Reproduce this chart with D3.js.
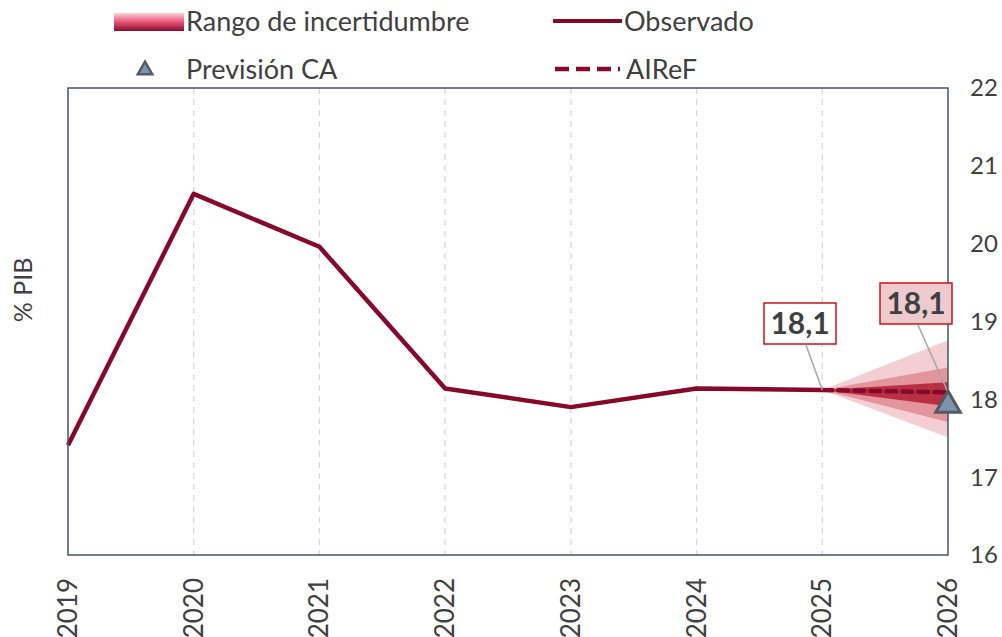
<!DOCTYPE html>
<html>
<head>
<meta charset="utf-8">
<script src="https://cdn.jsdelivr.net/npm/d3@7"></script>
<style>
    body { margin: 0; background: white; }
    svg { font-family: 'Lato', 'Open Sans', sans-serif; fill: #404040; }
</style>
</head>
<body>
<div id="chart"></div>
<script>
var years = [2019, 2020, 2021, 2022, 2023, 2024, 2025, 2026]
var observado = [17.41, 20.64, 19.96, 18.14, 17.9, 18.14, 18.12]
var aireYears = [2025, 2026]
var aireF = [18.12, 18.09]
var previsionCA = { year: 2026, value: 17.95 }
// fan bands at 2026: [low, high], widest first
var bands = [[17.51, 18.76], [17.71, 18.41], [17.91, 18.22]]
var bandColors = ['#f3cfd4', '#e3949d', '#b83041']
var yTicks = [16, 17, 18, 19, 20, 21, 22]
var labels = [
    { year: 2025, value: 18.12, text: '18,1', bx: 800, by: 323, fill: 'white' },
    { year: 2026, value: 18.09, text: '18,1', bx: 916, by: 303, fill: '#eccacd' }
]

var width = 1002, height = 637
var plot = { left: 68, right: 948, top: 88, bottom: 555 }
var red = '#86092b'

var svg = d3.select('#chart').append('svg')
    .attr('width', width)
    .attr('height', height)

var x = d3.scaleLinear().domain([2019, 2026]).range([plot.left, plot.right])
var y = d3.scaleLinear().domain([16, 22]).range([plot.bottom, plot.top])

// gridlines
svg.append('g').selectAll('line')
    .data(years.slice(1, -1))
    .join('line')
    .attr('x1', d => x(d)).attr('x2', d => x(d))
    .attr('y1', plot.top).attr('y2', plot.bottom)
    .attr('stroke', '#d6d6d6')
    .attr('stroke-width', 1.2)
    .attr('stroke-dasharray', '6,5')

// fan
var fan = svg.append('g')
bands.forEach(function (b, i) {
    fan.append('path')
        .attr('d', d3.area()
            .x(d => x(d.year))
            .y0(d => y(d.lo))
            .y1(d => y(d.hi))([
                { year: 2025, lo: observado[6], hi: observado[6] },
                { year: 2026, lo: b[0], hi: b[1] }
            ]))
        .attr('fill', bandColors[i])
})

// observed line
svg.append('path')
    .datum(observado)
    .attr('d', d3.line().x((d, i) => x(years[i])).y(d => y(d)))
    .attr('fill', 'none')
    .attr('stroke', red)
    .attr('stroke-width', 4.5)
    .attr('stroke-linejoin', 'round')

// AIReF dashed
svg.append('path')
    .datum(aireF)
    .attr('d', d3.line().x((d, i) => x(aireYears[i])).y(d => y(d)))
    .attr('fill', 'none')
    .attr('stroke', red)
    .attr('stroke-width', 4.5)
    .attr('stroke-dasharray', '10,6')
    .attr('stroke-linecap', 'round')

// leader lines
labels.forEach(function (l) {
    svg.append('line')
        .attr('x1', l.bx + (l.year === 2026 ? 2 : 6)).attr('y1', l.by + 22)
        .attr('x2', x(l.year)).attr('y2', y(l.value))
        .attr('stroke', '#a6a6a6')
        .attr('stroke-width', 1.5)
})

// plot frame
svg.append('rect')
    .attr('x', plot.left).attr('y', plot.top)
    .attr('width', plot.right - plot.left)
    .attr('height', plot.bottom - plot.top)
    .attr('fill', 'none')
    .attr('stroke', '#44546a')
    .attr('stroke-width', 1.5)

labels.forEach(function (l) {
    var g = svg.append('g')
    g.append('rect')
        .attr('x', l.bx - 36).attr('y', l.by - 20)
        .attr('width', 72).attr('height', 41)
        .attr('fill', l.fill)
        .attr('stroke', '#d0101a')
        .attr('stroke-width', 1.5)
    g.append('text')
        .attr('x', l.bx).attr('y', l.by + 11)
        .attr('text-anchor', 'middle')
        .style('font-size', '30px')
        .style('font-weight', 'bold')
        .text(l.text)
})

// triangle
svg.append('path')
    .attr('d', d3.symbol().type(d3.symbolTriangle).size(260)())
    .attr('transform', 'translate(' + x(previsionCA.year) + ',' + (y(previsionCA.value) + 2) + ')')
    .attr('fill', '#7f93b0')
    .attr('stroke', '#555a60')
    .attr('stroke-width', 3)

// y ticks (right)
svg.append('g').selectAll('text')
    .data(yTicks)
    .join('text')
    .attr('x', 984)
    .attr('y', d => y(d))
    .attr('dy', '0.35em')
    .attr('text-anchor', 'middle')
    .style('font-size', '24px')
    .text(d => d)

// x ticks, rotated
svg.append('g').selectAll('text')
    .data(years)
    .join('text')
    .attr('transform', d => 'translate(' + (x(d) + 9) + ',578) rotate(-90)')
    .attr('text-anchor', 'end')
    .style('font-size', '26px')
    .text(d => d)

// y title
svg.append('text')
    .attr('transform', 'translate(32,290) rotate(-90)')
    .attr('text-anchor', 'middle')
    .style('font-size', '25px')
    .text('% PIB')

// legend
var grad = svg.append('defs').append('linearGradient')
    .attr('id', 'fanGrad').attr('x1', 0).attr('x2', 0).attr('y1', 0).attr('y2', 1)
grad.append('stop').attr('offset', '0%').attr('stop-color', '#fbd3dc')
grad.append('stop').attr('offset', '45%').attr('stop-color', '#ef5d80')
grad.append('stop').attr('offset', '100%').attr('stop-color', '#8a0a2a')

var legend = svg.append('g').style('font-size', '27px')
legend.append('rect')
    .attr('x', 114).attr('y', 13).attr('width', 70).attr('height', 18)
    .attr('fill', 'url(#fanGrad)')
legend.append('text').attr('x', 186).attr('y', 31).text('Rango de incertidumbre')
legend.append('line')
    .attr('x1', 553).attr('x2', 622).attr('y1', 21).attr('y2', 21)
    .attr('stroke', red).attr('stroke-width', 4)
legend.append('text').attr('x', 624).attr('y', 31).text('Observado')

legend.append('path')
    .attr('d', d3.symbol().type(d3.symbolTriangle).size(90)())
    .attr('transform', 'translate(145,70)')
    .attr('fill', '#7f93b0')
    .attr('stroke', '#555a60')
    .attr('stroke-width', 2.5)
legend.append('text').attr('x', 186).attr('y', 79).text('Previsión CA')
legend.append('line')
    .attr('x1', 555).attr('x2', 620).attr('y1', 69).attr('y2', 69)
    .attr('stroke', red).attr('stroke-width', 4.5)
    .attr('stroke-dasharray', '14,7')
legend.append('text').attr('x', 626).attr('y', 79).text('AIReF')
</script>
</body>
</html>
